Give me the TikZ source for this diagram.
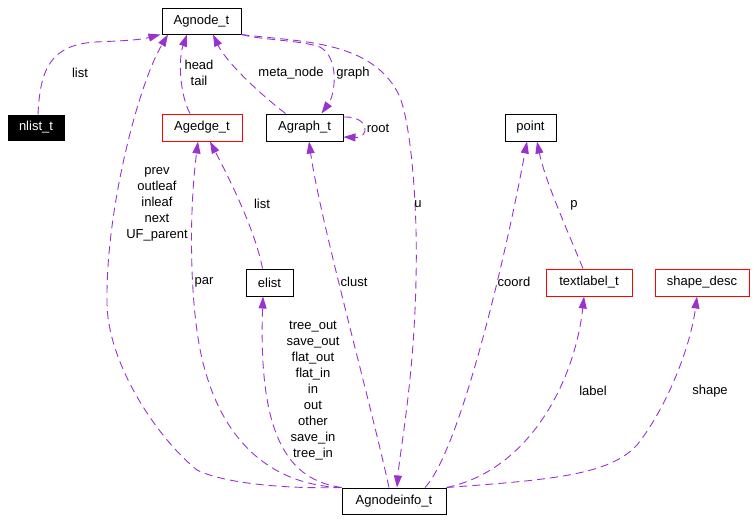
\documentclass[tikz,border=0pt]{standalone}
\usepackage{fontspec}
\setmainfont{Liberation Sans}
\usetikzlibrary{arrows.meta}
\definecolor{edgecol}{HTML}{9A32CD}
\tikzset{
  box/.style={draw=black, line width=1pt, inner sep=0pt, font=\fontsize{13}{16}\selectfont},
  redbox/.style={box, draw=red},
  lbl/.style={inner sep=0pt, font=\fontsize{13}{16}\selectfont, align=center},
  uses/.style={draw=edgecol, line width=0.9pt, dash pattern=on 8pt off 5pt, -{Triangle[length=12pt,width=8pt]}, fill=none},
}
\begin{document}
\begin{tikzpicture}[x=1pt,y=-1pt]
\useasboundingbox (0,0) rectangle (756,522);
% nodes
\node[box, minimum width=79pt, minimum height=26pt] (agnode) at (201.5,21) {Agnode\_t};
\node[box, fill=black, text=white, minimum width=56pt, minimum height=25pt] (nlist) at (36,127.5) {nlist\_t};
\node[redbox, minimum width=80pt, minimum height=27pt] (agedge) at (202,127.5) {Agedge\_t};
\node[box, minimum width=77pt, minimum height=27pt] (agraph) at (304.5,127.5) {Agraph\_t};
\node[box, minimum width=51pt, minimum height=27pt] (point) at (530.5,127.5) {point};
\node[box, minimum width=47pt, minimum height=27pt] (elist) at (269.5,282.5) {elist};
\node[redbox, minimum width=86pt, minimum height=27pt] (textlabel) at (589,282.5) {textlabel\_t};
\node[redbox, minimum width=94pt, minimum height=27pt] (shape) at (702,282.5) {shape\_desc};
\node[box, minimum width=104pt, minimum height=26pt] (info) at (394,501) {Agnodeinfo\_t};

% edges
\draw[uses] ([xshift=2pt]nlist.north) .. controls (40,70) and (50,45) .. (95,42) .. controls (120,41) and (140,40) .. ([xshift=-41pt]agnode.south);
\draw[uses] (info.north west) .. controls (290,489) and (225,484) .. (197,470) .. controls (155,436) and (106,360) .. (107,300) .. controls (106,210) and (138,85) .. ([xshift=-33.5pt]agnode.south);
\draw[uses] ([xshift=-12pt]agedge.north) .. controls (180,95) and (178,60) .. ([xshift=-14.5pt]agnode.south);
\draw[uses] ([xshift=-19pt]agraph.north) .. controls (255,90) and (225,60) .. ([xshift=11.5pt]agnode.south);
\draw[uses] (agnode.south east) .. controls (260,40) and (300,40) .. (320,47) .. controls (340,58) and (335,95) .. ([xshift=17pt]agraph.north);
\draw[uses] (agnode.south east) .. controls (300,42) and (370,40) .. (398,93) .. controls (410,116) and (418,200) .. (416,280) .. controls (414,380) and (400,450) .. ([xshift=3pt]info.north);
\draw[uses] ([yshift=10.5pt]agraph.east) .. controls (370,116) and (370,138) .. ([yshift=-9.5pt]agraph.east);
\draw[uses] (info.north west) .. controls (290,486) and (230,460) .. (205,370) .. controls (190,320) and (188,220) .. ([xshift=-4pt]agedge.south);
\draw[uses] ([xshift=-7pt]elist.north) .. controls (255,230) and (230,180) .. ([xshift=8pt]agedge.south);
\draw[uses] ([xshift=-5pt]info.north) .. controls (370,400) and (320,220) .. ([xshift=4.5pt]agraph.south);
\draw[uses] (info.north west) .. controls (290,480) and (258,440) .. ([xshift=-6.5pt]elist.south);
\draw[uses] ([xshift=31pt]info.north) .. controls (460,450) and (505,260) .. ([xshift=-3.5pt]point.south);
\draw[uses] ([xshift=-6pt]textlabel.north) .. controls (565,225) and (545,180) .. ([xshift=6.5pt]point.south);
\draw[uses] (info.north east) .. controls (530,470) and (575,380) .. ([xshift=-5pt]textlabel.south);
\draw[uses] (info.north east) .. controls (550,480) and (610,475) .. (637,445) .. controls (665,410) and (690,350) .. ([xshift=-5pt]shape.south);

% labels
\node[lbl] (l1) at (80,73) {list};
\node[lbl] (l2) at (199,73) {head\\tail};
\node[lbl] (l3) at (291,73) {meta\_node};
\node[lbl] (l4) at (353,73) {graph};
\node[lbl] (l5) at (378,128) {root};
\node[lbl] (l6) at (157,204) {prev\\outleaf\\inleaf\\next\\UF\_parent};
\node[lbl] (l7) at (262,204) {list};
\node[lbl] (l8) at (418,204) {u};
\node[lbl] (l9) at (574,205) {p};
\node[lbl] (l10) at (204,282) {par};
\node[lbl] (l11) at (354,282) {clust};
\node[lbl] (l12) at (514,282) {coord};
\node[lbl] (l13) at (313,391) {tree\_out\\save\_out\\flat\_out\\flat\_in\\in\\out\\other\\save\_in\\tree\_in};
\node[lbl] (l14) at (593,391) {label};
\node[lbl] (l15) at (710,391) {shape};
\end{tikzpicture}
\end{document}
